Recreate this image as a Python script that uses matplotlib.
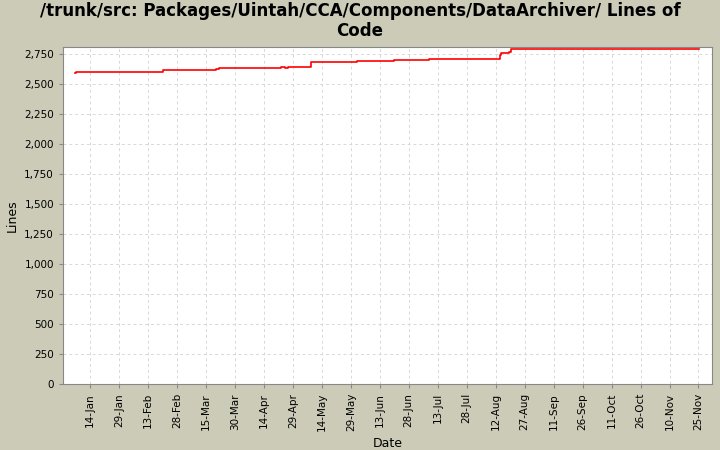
import numpy as np
import pandas as pd
import matplotlib
matplotlib.use("Agg")
import matplotlib.pyplot as plt
import matplotlib.dates as mdates
from matplotlib.ticker import FuncFormatter, MultipleLocator

# step points: days after 14-Jan, lines of code
day_offsets = [-7.6, -7.5, 37.8, 65, 67, 98.8, 101, 102.7, 114.5, 138, 157.6, 175.6, 212.2, 212.9, 217, 217.9, 315.4]
lines = [2595, 2602, 2614, 2622, 2630, 2639, 2630, 2639, 2681, 2689, 2697, 2706, 2740, 2756, 2769, 2789, 2789]

base = pd.Timestamp("2009-01-14")
dates = [base + pd.Timedelta(days=d) for d in day_offsets]
tick_dates = pd.date_range(base, periods=22, freq="15D")

bg = "#cbcbb8"
fig = plt.figure(figsize=(7.2, 4.5), dpi=100, facecolor=bg)
ax = fig.add_axes([63/720, 66/450, 649/720, 337/450])
ax.set_facecolor("white")
ax.step(dates, lines, where="post", color="#ff0000", linewidth=1.2)

ax.set_xlim(base - pd.Timedelta(days=14), base + pd.Timedelta(days=322))
ax.set_ylim(0, 2808)
ax.set_xticks(tick_dates)
ax.xaxis.set_major_formatter(mdates.DateFormatter("%d-%b"))
ax.yaxis.set_major_locator(MultipleLocator(250))
ax.yaxis.set_major_formatter(FuncFormatter(lambda v, p: f"{int(v):,}"))
plt.setp(ax.get_xticklabels(), rotation=90, fontsize=7.5)
plt.setp(ax.get_yticklabels(), fontsize=7.5)
ax.grid(True, color="#d8d8d8", linestyle=(0, (3, 3)), linewidth=0.7)
for s in ax.spines.values():
    s.set_color("#888888")
ax.tick_params(length=3, color="#888888")
ax.set_xlabel("Date", fontsize=9)
ax.set_ylabel("Lines", fontsize=9)
fig.suptitle("/trunk/src: Packages/Uintah/CCA/Components/DataArchiver/ Lines of\nCode",
             fontsize=12, fontweight="bold", y=0.995, linespacing=1.1)
fig.savefig("out.png", dpi=100, facecolor=bg)
